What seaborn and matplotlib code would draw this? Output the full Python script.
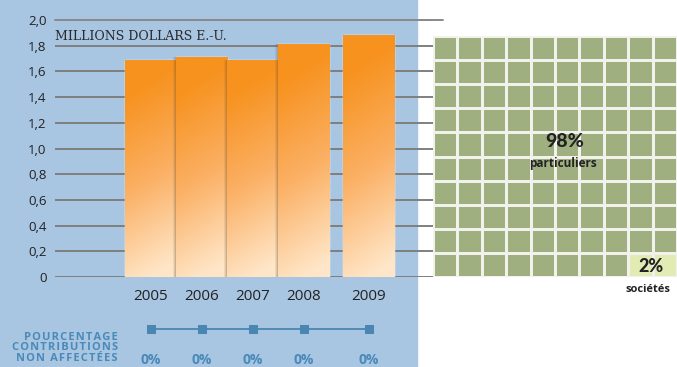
import numpy as np
import pandas as pd
import matplotlib
matplotlib.use("Agg")
import matplotlib.pyplot as plt
from matplotlib.colors import LinearSegmentedColormap, ListedColormap
from matplotlib.patches import Rectangle
import seaborn as sns

# données
annees = ["2005", "2006", "2007", "2008", "2009"]
montants = [1.69, 1.71, 1.69, 1.81, 1.88]  # millions de dollars E.-U.
non_affectees = [0, 0, 0, 0, 0]  # pourcentage contributions non affectées
part_particuliers = 98
part_societes = 2
yticks = [0, 0.2, 0.4, 0.6, 0.8, 1.0, 1.2, 1.4, 1.6, 1.8, 2.0]
ytick_labels = ["0", "0,2", "0,4", "0,6", "0,8", "1,0", "1,2", "1,4", "1,6", "1,8", "2,0"]

sns.set_style("white")
plt.rcParams["font.family"] = ["Open Sans", "DejaVu Sans"]

W, H = 677, 367
fig = plt.figure(figsize=(W / 100, H / 100), dpi=100)
fig.patch.set_facecolor("white")


def box(x0, y0, x1, y1):
    # coordonnées pixels (origine en haut à gauche) -> fraction de figure
    return [x0 / W, 1 - y1 / H, (x1 - x0) / W, (y1 - y0) / H]


# fond bleu de la partie gauche
fig.patches.append(Rectangle((0, 0), 417 / W, 1, transform=fig.transFigure,
                             color="#A8C5E1", zorder=-10))

XLIM = (-1.88, 5.53)
DECALAGE_2009 = 0.27

# ---------------------------------------------- barres ----------------------------------------------
ax = fig.add_axes(box(55, 20, 433, 277))
ax.patch.set_alpha(0)
df = pd.DataFrame({"annee": annees, "montant": montants})
sns.barplot(data=df, x="annee", y="montant", ax=ax, width=1.0,
            color="#F7931E", saturation=1, zorder=2)

xpos = [float(i) for i in range(len(annees))]
xpos[-1] += DECALAGE_2009
last = ax.patches[-1]
last.set_x(last.get_x() + DECALAGE_2009)

# dégradé orange dans chaque barre
orange = LinearSegmentedColormap.from_list("orange", ["#FFE6C8", "#FBB064", "#F7921E"])
for k, p in enumerate(ax.patches):
    x0, y0, w, h = p.get_x(), p.get_y(), p.get_width(), p.get_height()
    gy, gx = np.mgrid[0:1:100j, 0:1:20j]
    grad = np.clip(gy * 1.1 - gx * 0.15 + 0.08, 0, 1)
    im = ax.imshow(grad, extent=[x0, x0 + w, y0, y0 + h], origin="lower",
                   cmap=orange, aspect="auto", zorder=2 + k * 0.1, vmin=0, vmax=1)
    im.set_clip_path(p)
    p.set_facecolor("none")
    # ombre douce sur le bord gauche
    if 0 < k < 4:
        for i, a in enumerate([0.35, 0.2, 0.1]):
            ax.fill_between([x0 - 0.02 * (i + 1), x0 - 0.02 * i], 0, h, color="#6b4a20",
                            alpha=a, zorder=2 + k * 0.1 + 0.05, lw=0)

ax.set_yticks(yticks)
ax.set_yticklabels(ytick_labels)
ax.set_xticks(xpos)
ax.set_xticklabels(annees)
ax.yaxis.grid(True, color="#7f7f7f", lw=1.4, zorder=0)
ax.set_axisbelow(True)
ax.tick_params(axis="y", length=0, pad=6, labelsize=9.5, labelcolor="#222222")
ax.tick_params(axis="x", length=0, pad=9, labelsize=11, labelcolor="#222222")
ax.set_xlabel("")
ax.set_ylabel("")
sns.despine(ax=ax, left=True, bottom=True, top=True, right=True)
ax.set_xlim(*XLIM)
ax.set_ylim(0, 2.0)
ax.plot([0, (443 - 55) / 378], [2.0, 2.0], transform=ax.get_yaxis_transform(),
        color="#8a8a8a", lw=1.4, clip_on=False, zorder=1)
ax.text(0, 1.875, "MILLIONS DOLLARS E.-U.", transform=ax.get_yaxis_transform(),
        family="DejaVu Serif", fontsize=9, color="#2a2a2a", va="center", ha="left")

# ------------------------------------- contributions non affectées -------------------------------------
ax2 = fig.add_axes(box(55, 315, 433, 367))
ax2.patch.set_alpha(0)
sns.lineplot(x=xpos, y=non_affectees, marker="s", markersize=5.5, color="#4A86B2",
             markeredgecolor="#4A86B2", lw=1.3, ax=ax2)
for x, v in zip(xpos, non_affectees):
    ax2.text(x, 0.13, f"{v}%", transform=ax2.get_xaxis_transform(), ha="center",
             va="center", fontsize=10, fontweight="bold", color="#4A8AB8")
ax2.set_xlim(*XLIM)
ax2.set_ylim(-2.7, 1)
ax2.axis("off")


def espace(txt):
    # léger espacement des lettres
    return "\u200a".join(txt)


fig.text(118 / W, 1 - 348 / H,
         "\n".join(espace(t) for t in ["POURCENTAGE", "CONTRIBUTIONS", "NON AFFECTÉES"]),
         ha="right", va="center", multialignment="right", linespacing=0.92,
         fontsize=8, fontweight="bold", color="#4A8AB8")

# ---------------------------------------------- gaufre ----------------------------------------------
axw = fig.add_axes(box(433, 36, 677, 277))
cases = np.array([0] * part_particuliers + [1] * part_societes).reshape(10, 10)
sns.heatmap(cases, cmap=ListedColormap(["#A0AF80", "#E1EBB3"]), cbar=False,
            linewidths=0.9, linecolor="#F2F2EC", xticklabels=False, yticklabels=False,
            ax=axw)
fig.text(565 / W, 1 - 142 / H, f"{part_particuliers}%", ha="center", va="center",
         family=["Lato", "DejaVu Sans"], fontsize=14, fontweight="black", color="#222222")
fig.text(563 / W, 1 - 163 / H, "particuliers", ha="center", va="center",
         fontsize=8.5, fontweight="bold", color="#222222")
fig.text(651 / W, 1 - 267 / H, f"{part_societes}%", ha="center", va="center",
         family=["Lato", "DejaVu Sans"], fontsize=13, fontweight="black", color="#222222")
fig.text(648 / W, 1 - 290 / H, "sociétés", ha="center", va="center",
         fontsize=8, fontweight="bold", color="#222222")

fig.savefig("out.png", dpi=100)
